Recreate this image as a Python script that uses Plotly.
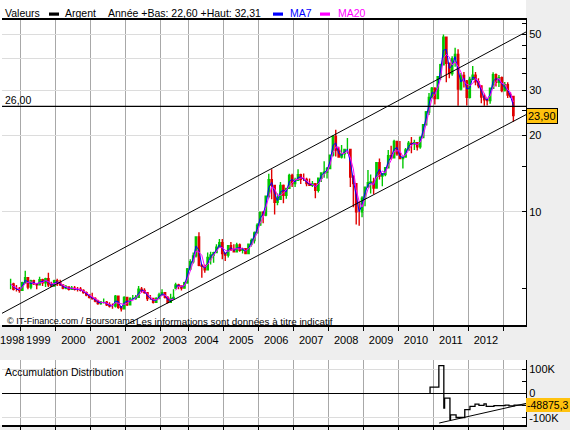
import pandas as pd
import numpy as np
import plotly.graph_objects as go

# ---------------- data (monthly) ----------------
start_month = "1998-09-01"
close = [5.20, 4.95, 4.95, 4.90,
         5.25, 5.50, 5.05, 5.35, 5.20, 5.15, 5.40, 5.25, 5.45, 5.15, 5.10, 5.35,
         5.25, 5.15, 5.00, 5.05, 4.95, 5.00, 4.95, 4.95, 4.90, 4.80, 4.70, 4.60,
         4.55, 4.45, 4.35, 4.40, 4.40, 4.30, 4.25, 4.25, 4.65, 4.20, 4.15, 4.60,
         4.30, 4.55, 4.55, 4.60, 4.95, 4.90, 4.80, 4.55, 4.55, 4.40, 4.55, 4.70,
         4.80, 4.60, 4.40, 4.55, 4.60, 4.55, 5.00, 5.15, 5.10, 5.00, 5.25, 5.95,
         6.35, 6.70, 7.95, 6.15, 6.10, 5.90, 6.60, 6.75, 6.90, 7.25, 7.55, 6.85,
         6.75, 7.35, 7.10, 6.95, 7.40, 7.05, 7.15, 6.85, 7.45, 7.70, 8.25, 8.85,
         9.95, 9.70, 11.50, 13.35, 12.70, 10.90, 11.20, 12.70, 11.60, 12.35, 13.90, 12.90,
         13.30, 14.00, 13.40, 13.40, 12.90, 12.70, 12.90, 12.15, 13.55, 14.20, 14.30, 14.80,
         16.70, 19.80, 17.50, 16.40, 16.90, 17.60, 17.60, 13.70, 12.90, 10.00, 10.00, 11.30,
         12.50, 13.00, 13.10, 12.40, 15.60, 13.80, 14.00, 14.90, 16.60, 16.30, 18.90, 16.90,
         16.20, 16.40, 17.50, 18.60, 18.50, 18.70, 18.00, 19.60, 22.00, 24.70, 28.20, 30.60,
         27.90, 34.00, 37.90, 48.60, 38.40, 35.00, 40.00, 41.60, 30.40, 34.40, 32.70, 28.20,
         33.20, 34.50, 32.50, 31.30, 28.30, 27.60, 27.40, 30.60, 34.60, 32.30, 33.70, 30.00,
         31.60, 28.80, 28.40, 23.90]
high = [5.45, 5.25, 5.15, 5.05,
        5.30, 5.85, 5.45, 5.40, 5.40, 5.20, 5.55, 5.45, 5.50, 5.75, 5.30, 5.40,
        5.45, 5.40, 5.15, 5.15, 5.05, 5.10, 5.10, 5.05, 5.05, 4.95, 4.85, 4.70,
        4.80, 4.60, 4.50, 4.45, 4.55, 4.45, 4.40, 4.35, 4.70, 4.65, 4.25, 4.65,
        4.60, 4.60, 4.70, 4.70, 5.10, 5.05, 5.00, 4.75, 4.70, 4.55, 4.60, 4.80,
        4.95, 4.80, 4.65, 4.75, 4.95, 4.65, 5.05, 5.25, 5.20, 5.10, 5.30, 6.00,
        6.50, 6.90, 7.95, 8.30, 6.20, 6.20, 6.90, 6.95, 6.95, 7.45, 7.80, 7.80,
        6.90, 7.40, 7.60, 7.45, 7.55, 7.50, 7.20, 7.15, 7.50, 7.85, 8.35, 9.00,
        10.00, 10.05, 11.55, 14.10, 14.70, 12.50, 11.80, 13.10, 12.80, 12.40, 14.10, 14.10,
        13.60, 14.70, 14.10, 14.15, 13.60, 13.50, 13.20, 12.90, 13.60, 14.30, 15.80, 15.00,
        16.70, 20.00, 21.00, 18.00, 18.30, 17.60, 19.50, 17.60, 13.90, 12.90, 11.00, 11.50,
        12.50, 14.60, 14.00, 13.60, 15.70, 16.20, 14.20, 15.00, 17.50, 18.20, 19.20, 18.80,
        19.00, 16.50, 17.80, 19.00, 19.70, 19.20, 18.80, 19.80, 22.10, 24.90, 29.30, 31.00,
        30.90, 34.20, 38.20, 49.80, 48.00, 38.00, 40.90, 44.20, 43.60, 35.20, 35.50, 33.00,
        34.00, 37.50, 35.50, 33.50, 31.40, 29.20, 28.10, 30.60, 35.40, 35.00, 34.50, 34.10,
        32.40, 32.30, 29.50, 28.30]
low = [4.95, 4.90, 4.85, 4.80,
       4.95, 5.20, 4.95, 4.95, 5.15, 4.95, 5.15, 5.10, 5.05, 5.05, 5.05, 5.10,
       5.10, 5.10, 4.95, 4.95, 4.90, 4.95, 4.90, 4.85, 4.85, 4.75, 4.65, 4.55,
       4.50, 4.40, 4.30, 4.30, 4.35, 4.25, 4.20, 4.15, 4.20, 4.15, 4.05, 4.15,
       4.25, 4.30, 4.50, 4.50, 4.60, 4.80, 4.75, 4.45, 4.50, 4.35, 4.40, 4.55,
       4.70, 4.55, 4.35, 4.45, 4.55, 4.45, 4.60, 4.95, 4.95, 4.90, 5.00, 5.20,
       5.85, 6.25, 6.60, 6.10, 5.50, 5.75, 5.90, 6.20, 6.30, 6.90, 7.20, 6.50,
       6.40, 6.60, 7.00, 6.90, 6.95, 6.95, 6.85, 6.80, 6.80, 7.30, 7.50, 8.20,
       8.80, 9.00, 9.60, 11.30, 11.20, 9.75, 10.60, 11.20, 10.80, 11.25, 12.30, 12.50,
       12.50, 13.30, 12.85, 13.20, 12.60, 12.70, 12.50, 11.30, 11.90, 13.10, 13.60, 13.50,
       14.70, 16.50, 16.50, 16.30, 16.20, 16.20, 16.90, 12.50, 10.40, 8.90, 8.80, 9.50,
       10.50, 12.50, 11.80, 11.70, 12.50, 13.40, 12.60, 13.80, 15.00, 16.00, 16.20, 16.60,
       16.20, 14.80, 16.30, 17.50, 17.00, 17.50, 17.40, 17.70, 19.60, 22.00, 24.00, 27.90,
       26.40, 27.80, 33.00, 37.70, 32.30, 33.50, 34.30, 37.20, 26.10, 30.00, 30.80, 26.20,
       27.90, 33.00, 31.50, 30.60, 26.70, 26.10, 26.20, 26.60, 30.60, 31.10, 31.00, 29.50,
       29.70, 28.00, 28.00, 22.60]

year_labels = ["1999", "2000", "2001", "2002", "2003", "2004", "2005",
               "2006", "2007", "2008", "2009", "2010", "2011", "2012"]
year_label_dates = ["1999-07-02", "2000-07-02", "2001-07-02", "2002-07-02",
                    "2003-05-28", "2004-07-02", "2005-07-02", "2006-07-02", "2007-07-02",
                    "2008-07-02", "2009-07-02", "2010-07-02", "2011-07-02", "2012-07-02"]
first_year_label = "1998"
first_year_label_date = "1998-10-01"
year_starts = ["1999-01-01", "2000-01-01", "2001-01-01", "2002-01-01", "2003-01-01",
               "2004-01-01", "2005-01-01", "2006-01-01", "2007-01-01", "2008-01-01",
               "2009-01-01", "2010-01-01", "2011-01-01", "2012-01-01", "2013-01-01"]

x_range = ["1998-06-17", "2013-08-25"]
gap_2003 = ["2003-06-01", "2003-08-10"]

# channel lines (date, price)
upper_dates = ["1998-06-17", "2013-08-25"]
upper_values = [3.98, 51.0]
lower_dates = ["2001-12-13", "2013-08-25"]
lower_values = [3.55, 24.1]
level_value = 26.0
last_value = 23.90

# accumulation distribution (step line)
ad_dates = ["2010-11-24", "2010-11-26", "2011-02-26", "2011-04-19", "2011-04-27",
            "2011-06-22", "2011-06-28", "2011-08-25", "2011-11-24", "2012-01-17",
            "2012-03-10", "2012-04-20", "2012-06-12", "2012-07-05", "2012-09-24",
            "2012-11-16", "2013-01-18", "2013-02-28", "2013-04-23", "2013-06-13",
            "2013-08-03", "2013-08-25"]
ad_values = [0, 26000, 115000, -60000, -19000, -108000, -88000, -99000, -67000,
             -53500, -44000, -49000, -43000, -53000, -50000, -50000, -48000, -51000,
             -48000, -48000, -48875.3, -48875.3]
ad_trend_dates = ["2011-03-01", "2013-08-25"]
ad_trend_values = [-122000, -41000]
ad_last = -48875.3

# ---------------- figure ----------------
W, H = 570, 430
FONT = "Liberation Sans"
GOLD = "#FFC20E"

def py(p):
    return 1 - p / H

dates = pd.date_range(start_month, periods=len(close), freq="MS") + pd.Timedelta(days=14)
s_close = pd.Series(close)
opens = s_close.shift(1).fillna(close[0]).tolist()
ma7 = s_close.rolling(2, min_periods=1).mean()
ma20 = s_close.rolling(3, min_periods=1).mean()

fig = go.Figure()
fig.add_trace(go.Scatter(x=dates, y=ma7, mode="lines", line=dict(color="#0000FF", width=1),
                         xaxis="x", yaxis="y", showlegend=False))
fig.add_trace(go.Scatter(x=dates, y=ma20, mode="lines", line=dict(color="#FF00FF", width=1),
                         xaxis="x", yaxis="y", showlegend=False))
fig.add_trace(go.Candlestick(
    x=dates, open=opens, high=high, low=low, close=close,
    increasing=dict(line=dict(color="#00C800", width=1.4), fillcolor="#00C800"),
    decreasing=dict(line=dict(color="#E00000", width=1.4), fillcolor="#E00000"),
    whiskerwidth=0, xaxis="x", yaxis="y", showlegend=False))
fig.add_trace(go.Scatter(x=upper_dates, y=upper_values, mode="lines",
                         line=dict(color="black", width=1), xaxis="x", yaxis="y", showlegend=False))
fig.add_trace(go.Scatter(x=lower_dates, y=lower_values, mode="lines",
                         line=dict(color="black", width=1), xaxis="x", yaxis="y", showlegend=False))
fig.add_trace(go.Scatter(x=x_range, y=[level_value, level_value], mode="lines",
                         line=dict(color="black", width=1.3), xaxis="x", yaxis="y", showlegend=False))
fig.add_trace(go.Scatter(x=ad_dates, y=ad_values, mode="lines", line_shape="hv",
                         line=dict(color="black", width=1.3), xaxis="x2", yaxis="y2", showlegend=False))
fig.add_trace(go.Scatter(x=ad_trend_dates, y=ad_trend_values, mode="lines",
                         line=dict(color="black", width=1), xaxis="x2", yaxis="y2", showlegend=False))

xdom = [2 / W, 526 / W]
minor_x = dict(tickmode="array", tickvals=year_starts, ticks="outside", ticklen=4,
               tickcolor="black", tickwidth=1, showgrid=True, gridcolor="#A8A8A8", gridwidth=1)

fig.update_layout(
    width=W, height=H, margin=dict(l=0, r=0, t=0, b=0),
    paper_bgcolor="#EEEEEE", plot_bgcolor="white",
    font=dict(family=FONT, size=11, color="black"),
    showlegend=False, hovermode=False,
    xaxis=dict(domain=xdom, anchor="y", type="date", range=x_range,
               rangebreaks=[dict(bounds=gap_2003)], rangeslider=dict(visible=False),
               tickmode="array", tickvals=year_label_dates, ticktext=year_labels,
               ticks="", showgrid=False, showline=True, linecolor="black", linewidth=1.5,
               mirror=True, minor=minor_x, tickfont=dict(size=11), ticklabelstandoff=4,
               zeroline=False, fixedrange=True),
    yaxis=dict(domain=[py(325), py(19.7)], anchor="x", type="log",
               range=[0.5539, 1.7559], side="right",
               tickmode="array", tickvals=[10, 20, 30, 40, 50], ticktext=["10", "20", "30", "", "50"],
               ticks="inside", ticklen=4, tickcolor="black", showline=True, linecolor="black",
               linewidth=1, showgrid=True, gridcolor="#DCDCDC", gridwidth=1,
               minor=dict(tickmode="array", tickvals=[5, 15, 25, 35, 45, 55], ticks="inside",
                          ticklen=4, tickcolor="black", showgrid=False),
               tickfont=dict(size=11), zeroline=False),
    xaxis2=dict(domain=xdom, anchor="y2", type="date", range=x_range,
                rangebreaks=[dict(bounds=gap_2003)],
                showticklabels=False, ticks="", showgrid=False, showline=True,
                linecolor="black", linewidth=1.5, minor=minor_x, zeroline=False),
    yaxis2=dict(domain=[py(425), py(360)], anchor="x2", range=[-130000, 138000], side="right",
                tickmode="array", tickvals=[-100000, 0, 100000], ticktext=["-100K", "0", "100K"],
                ticks="inside", ticklen=4, tickcolor="black", showline=True, linecolor="black",
                linewidth=1, showgrid=True, gridcolor="#DCDCDC",
                zeroline=True, zerolinecolor="black", zerolinewidth=1.3,
                minor=dict(tickmode="array", tickvals=[50000, -50000], ticks="inside",
                           ticklen=4, tickcolor="black", showgrid=False),
                tickfont=dict(size=11)),
)

shapes = [
    dict(type="rect", xref="paper", yref="paper", x0=0, x1=526 / W, y0=py(325), y1=1,
         fillcolor="white", line=dict(width=0), layer="below"),
    dict(type="rect", xref="paper", yref="paper", x0=0, x1=526 / W, y0=py(425), y1=py(360),
         fillcolor="white", line=dict(width=0), layer="below"),
    # legend swatches
    dict(type="rect", xref="paper", yref="paper", x0=49 / W, x1=59 / W, y0=py(15.7), y1=py(12.5),
         fillcolor="black", line=dict(width=0)),
    dict(type="rect", xref="paper", yref="paper", x0=273 / W, x1=283 / W, y0=py(15.7), y1=py(12.5),
         fillcolor="#0000FF", line=dict(width=0)),
    dict(type="rect", xref="paper", yref="paper", x0=320 / W, x1=330 / W, y0=py(15.7), y1=py(12.5),
         fillcolor="#FF00FF", line=dict(width=0)),
]
fig.update_layout(shapes=shapes)

def ann(text, x, y, color="black", size=10.5, **kw):
    d = dict(text=text, xref="paper", yref="paper", x=x / W, y=py(y), xanchor="left",
             yanchor="middle", showarrow=False, font=dict(family=FONT, size=size, color=color))
    d.update(kw)
    return d

annotations = [
    ann("Valeurs", 3, 13.5),
    ann("Argent", 63, 13.5),
    ann("Année +Bas: 22,60 +Haut: 32,31", 106, 13.5),
    ann("MA7", 288, 13.5, color="#0000FF"),
    ann("MA20", 336, 13.5, color="#FF00FF"),
    ann("26,00", 3, 100, size=10.5),
    ann("© IT-Finance.com / Boursorama", 5, 321, size=9),
    ann("Les informations sont données à titre indicatif", 134, 321, size=9.8),
    ann("Accumulation Distribution", 3, 371.5, size=10.5),
    dict(text=first_year_label, xref="x", yref="paper", x=first_year_label_date, y=py(340),
         xanchor="center", yanchor="middle", showarrow=False, font=dict(family=FONT, size=11)),
    dict(text="23,90", xref="paper", yref="y", x=526 / W, y=float(np.log10(last_value)),
         xanchor="left", yanchor="middle", showarrow=False, bgcolor=GOLD,
         bordercolor="black", borderwidth=1, borderpad=1,
         font=dict(family=FONT, size=11, color="black")),
    dict(text="-48875,3", xref="paper", yref="y2", x=526 / W, y=ad_last,
         xanchor="left", yanchor="middle", showarrow=False, bgcolor=GOLD,
         bordercolor=GOLD, borderwidth=0, borderpad=1,
         font=dict(family=FONT, size=10.5, color="black")),
]
fig.update_layout(annotations=annotations)

fig.write_html("out.html")
